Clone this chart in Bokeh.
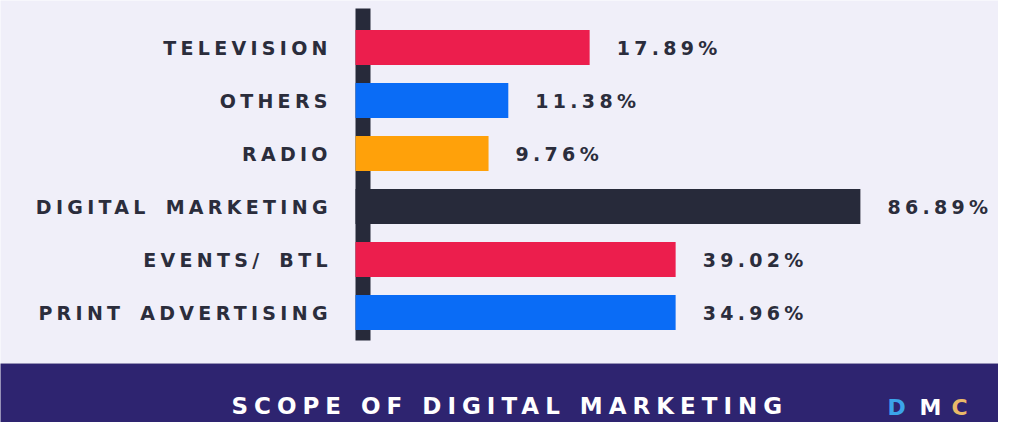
from bokeh.plotting import figure
from bokeh.models import ColumnDataSource, Range1d, Label
from bokeh.layouts import column
from bokeh.embed import file_html
from bokeh.resources import INLINE
from bokeh.core.properties import value

# ---- data ----
categories = ["TELEVISION", "OTHERS", "RADIO", "DIGITAL MARKETING", "EVENTS/ BTL", "PRINT ADVERTISING"]
shares = [17.89, 11.38, 9.76, 86.89, 39.02, 34.96]          # printed values (%)
bar_length = [40.3, 26.3, 22.9, 86.9, 55.1, 55.1]           # drawn bar lengths
bar_colors = ["#EC1E4D", "#0A6CF6", "#FFA10A", "#272A3A", "#EC1E4D", "#0A6CF6"]
title_text = "SCOPE OF DIGITAL MARKETING"
logo_letters = ["D", "M", "C"]
logo_colors = ["#3BA4EA", "#FFFFFF", "#E9B968"]

# ---- style / layout constants ----
W, H_CHART, H_BAND = 998, 363, 59
BG, BAND, TXT, AXIS = "#F0EFF9", "#2E2470", "#2B2D3C", "#272A3A"
PX_PER_UNIT, BASE_PX, ROW_PX, FIRST_ROW_PX = 5.81, 355, 53, 47
LS_CHART, WS_CHART, LS_BAND = 4.3, 5, 6
FONT = "DejaVu Sans"
LABEL_GAP, VALUE_GAP = 28, 27
BAR_H = 0.66
AXIS_W_PX = 15

n = len(categories)
idx = list(range(n))

x_range = Range1d(-BASE_PX / PX_PER_UNIT, (W - BASE_PX) / PX_PER_UNIT)
y_range = Range1d((H_CHART - FIRST_ROW_PX) / ROW_PX, -FIRST_ROW_PX / ROW_PX)

p = figure(width=W, height=H_CHART, x_range=x_range, y_range=y_range,
           output_backend="svg", toolbar_location=None,
           x_axis_type=None, y_axis_type=None, min_border=0,
           background_fill_color=BG, border_fill_color=BG, outline_line_color=None)
p.grid.visible = False
p.styles = {"letter-spacing": f"{LS_CHART}px", "word-spacing": f"{WS_CHART}px"}

src = ColumnDataSource(dict(
    y=idx, cat=categories, length=bar_length, color=bar_colors,
    label=[f"{v:.2f}%" for v in shares],
    # right-aligned text: compensate the extra width added by CSS letter/word spacing
    cat_off=[-(LABEL_GAP + (len(c) - 1) * LS_CHART + c.count(" ") * WS_CHART) for c in categories],
))

# axis bar
p.quad(left=[0], right=[AXIS_W_PX / PX_PER_UNIT], top=[(8 - FIRST_ROW_PX) / ROW_PX], bottom=[n - 1 + 0.53],
       fill_color=AXIS, line_color=None)

p.hbar(y="y", left=0, right="length", height=BAR_H, fill_color="color", line_color=None, source=src)

p.text(x=0, y="y", text="cat", x_offset="cat_off", text_align="right", text_baseline="middle",
       text_font=value(FONT), text_font_style="bold", text_font_size="19px", text_color=TXT, source=src)
p.text(x="length", y="y", text="label", x_offset=VALUE_GAP, text_align="left", text_baseline="middle",
       text_font=value(FONT), text_font_style="bold", text_font_size="19px", text_color=TXT, source=src)

# ---- bottom band ----
b = figure(width=W, height=H_BAND, x_range=Range1d(0, W), y_range=Range1d(0, H_BAND),
           output_backend="svg", toolbar_location=None,
           x_axis_type=None, y_axis_type=None, min_border=0,
           background_fill_color=BAND, border_fill_color=BAND, outline_line_color=None)
b.grid.visible = False
b.styles = {"letter-spacing": f"{LS_BAND}px"}

b.add_layout(Label(x=231, y=17, x_units="screen", y_units="screen", text=title_text,
                   text_baseline="middle", text_font=FONT, text_font_style="bold",
                   text_font_size="23px", text_color="#FFFFFF"))
for i, (ch, col) in enumerate(zip(logo_letters, logo_colors)):
    b.add_layout(Label(x=887 + i * 32, y=15, x_units="screen", y_units="screen", text=ch,
                       text_baseline="middle", text_font=FONT, text_font_style="bold",
                       text_font_size="22px", text_color=col))

layout = column(p, b, spacing=0)
open("out.html", "w").write(file_html(layout, INLINE))
